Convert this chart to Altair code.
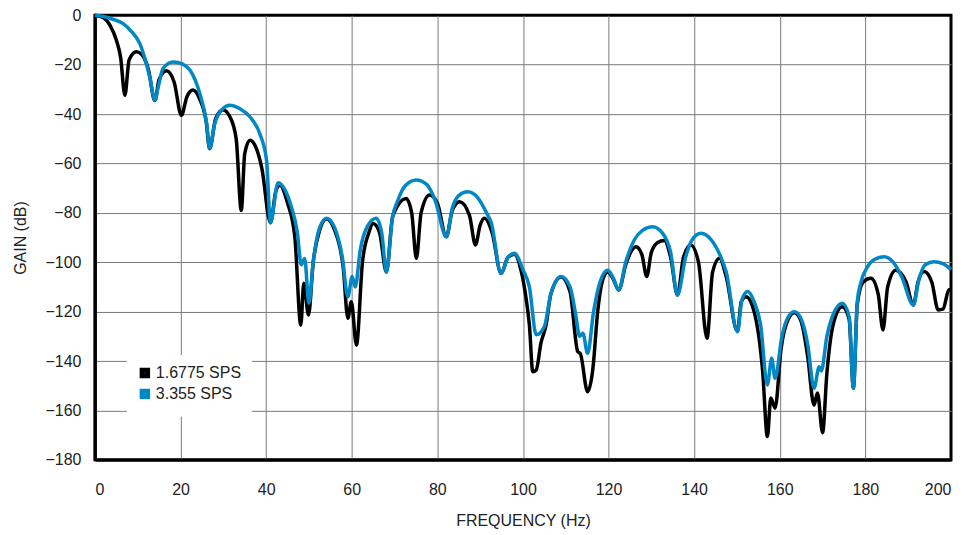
import altair as alt
import pandas as pd

# 1.6775 SPS (black)
freq_black = [0, 2, 3.5, 5, 6, 7.0, 8, 9.7, 11, 12.5, 14.0, 15, 16.7, 18.5, 20.2, 21.5, 22.9, 24.5, 26, 26.8,
              28.2, 29.9, 31.5, 33, 34.2, 35, 36.2, 37.5, 39, 41.0, 42.3, 43.2, 45, 46.7, 48.1, 48.8, 49.9,
              51, 52.5, 54.1, 56, 58, 59.1, 59.9, 61.1, 62.5, 64, 65, 66.5, 68.1, 69.5, 70, 72.7, 74, 75.1,
              76.2, 78.2, 80, 82.1, 83.5, 85.2, 87.5, 88.9, 90, 91.0, 92.8, 94.9, 96.5, 98.0, 99.5, 100.5,
              101.5, 102.3, 103.1, 104.2, 105.4, 106.5, 108.9, 111, 112.8, 113.4, 115.1, 116.3, 117.5, 118.5,
              119.8, 121, 122.4, 124, 126.4, 127.8, 128.9, 130, 131.5, 133, 134.5, 136.1, 137.5, 139.2, 141,
              143, 144.3, 145.9, 147.5, 150.1, 151, 152.1, 154, 156, 157.1, 157.9, 158.9, 160.3, 162, 163.4,
              165, 166.5, 168, 168.8, 170, 171, 172.5, 174.6, 176.2, 177.2, 178.1, 179.5, 181.3, 183, 184.1,
              185.2, 187.1, 189.5, 191.2, 192.3, 193.7, 195.5, 197, 198.1, 199.5, 200]
gain_black = [0, -1, -4, -10, -17, -32.4, -18, -14.8, -16, -22, -34.5, -26, -22.5, -27, -40.5, -33, -30.3, -34,
              -43, -54, -42, -38.4, -41, -50, -79, -56, -50.6, -53, -62, -84, -71, -68.8, -76, -89.7, -125.4,
              -108.5, -121.4, -100, -87, -82.5, -87, -102, -122.7, -116, -133.5, -100, -88, -84.3, -88, -104,
              -82, -79.6, -74.2, -80, -98.4, -80, -72.8, -76, -89.7, -79, -75.5, -81, -93, -85, -82.2, -88,
              -104.5, -98, -96.8, -103, -112, -125.4, -144.3, -143.6, -132.8, -125.4, -113, -106, -112,
              -136.2, -137, -152.4, -143.6, -119.3, -108, -104, -106.5, -111.2, -101, -93.7, -97, -105.8,
              -96, -92, -91.2, -98, -113.3, -98, -93, -100, -130.8, -104, -98.4, -106, -128, -116, -114, -120,
              -144.3, -170.6, -155, -159.1, -135, -123, -120.5, -124, -138, -157.8, -153, -169, -145, -125,
              -118, -123, -151, -117, -108, -106.5, -113, -127.4, -110, -103.2, -108, -117.3, -108, -103.8,
              -108, -119.3, -119, -111.2, -111]

# 3.355 SPS (blue)
freq_blue = [0, 2, 4, 6.6, 8.5, 10.5, 12.8, 14.0, 14.8, 15.9, 18.3, 20.5, 22.2, 24.5, 26.1, 26.8, 28, 29.9,
             31.5, 34, 36.2, 38.5, 40.1, 41.0, 42.8, 44.5, 45.9, 47.3, 48.2, 49.0, 50.0, 51, 52.5, 54.1, 56,
             57.8, 59.1, 60.1, 60.8, 62, 63.5, 65.7, 67, 68.1, 69.5, 70.8, 72.5, 75.1, 77.5, 79.5, 82.1, 83.5,
             85, 87.1, 89.5, 91.5, 92.6, 94.9, 96.5, 98.0, 100, 101.5, 103.1, 105, 106.5, 108.9, 111, 112.4,
             113.2, 114, 115.1, 116.5, 118, 119.8, 121, 122.4, 124, 126, 128, 130.3, 132.5, 134.5, 136.1, 138,
             139.5, 141.6, 144, 146, 147.5, 150.1, 151.2, 152.5, 154, 155.5, 157.1, 158.1, 158.9, 160.5, 162,
             163.4, 165, 166.5, 168, 169.2, 169.7, 171, 172.5, 174.6, 176.2, 177.2, 178.1, 178.9, 180.5,
             182.5, 184.4, 186.5, 188.5, 191.2, 192.5, 194, 196, 198, 200]
gain_blue = [0, -0.5, -1.5, -3.4, -6.5, -11.5, -25, -34.4, -29, -21.6, -18.9, -19.8, -22.2, -31.7, -43.8, -53.9,
             -43.8, -37.8, -36.4, -38, -41.1, -47.9, -58.7, -84, -67.8, -71, -77.5, -88, -101, -98.5, -116.6,
             -100, -86, -82.2, -86, -98, -114, -105.8, -110, -95, -86, -82.2, -88, -104, -82, -74.8, -69, -66.7,
             -68.5, -75, -89.7, -78, -73, -71.5, -74, -80, -84, -104.5, -98, -96.4, -103, -110, -129.4, -126,
             -113, -105.8, -110, -122, -130, -128.8, -136.9, -120, -108, -103.2, -106, -111.2, -100, -91, -87,
             -85.6, -88, -96, -113.3, -98, -91, -88.3, -91, -97, -104, -128.1, -115, -111.9, -116, -125,
             -149.7, -138.9, -147, -130, -122, -120, -123, -133, -151, -142.3, -144, -130, -121, -116.6, -122,
             -151, -116, -108.5, -101.8, -98.5, -97.8, -100, -106, -117.3, -107, -101, -99.8, -100.5, -103]

series_names = ["1.6775 SPS", "3.355 SPS"]
series_colors = ["#000000", "#0088C6"]

df_black = pd.DataFrame({"f": freq_black, "g": gain_black, "s": series_names[0]})
df_blue = pd.DataFrame({"f": freq_blue, "g": gain_blue, "s": series_names[1]})

FONT = "Liberation Sans"
TXT = "#222222"

x_enc = alt.X("f:Q", scale=alt.Scale(domain=[0, 200], nice=False, zero=False),
              axis=alt.Axis(title="FREQUENCY (Hz)", values=list(range(0, 201, 20)),
                            tickSize=0, labelPadding=22, titlePadding=15,
                            labelFont=FONT, labelFontSize=16, labelColor=TXT,
                            titleFont=FONT, titleFontSize=16, titleColor=TXT, titleFontWeight="normal",
                            domainColor="black", domainWidth=3,
                            gridColor="#7a7a7a", gridWidth=1,
                            gridOpacity={"condition": {"test": "datum.value === 0 || datum.value === 200", "value": 0}, "value": 1}))
y_enc = alt.Y("g:Q", scale=alt.Scale(domain=[-180, 0], nice=False, zero=False),
              axis=alt.Axis(title="GAIN (dB)", values=list(range(-180, 1, 20)),
                            tickSize=0, labelPadding=14, titlePadding=16,
                            labelFont=FONT, labelFontSize=16, labelColor=TXT,
                            titleFont=FONT, titleFontSize=16, titleColor=TXT, titleFontWeight="normal",
                            domainColor="black", domainWidth=3,
                            gridColor="#7a7a7a", gridWidth=1,
                            gridOpacity={"condition": {"test": "datum.value === 0 || datum.value === -180", "value": 0}, "value": 1}))
color_enc = alt.Color("s:N", scale=alt.Scale(domain=series_names, range=series_colors),
                      legend=alt.Legend(title=None, orient="none", legendX=32, legendY=340,
                                        symbolType="square", symbolSize=30, symbolStrokeWidth=5,
                                        labelFontSize=16, labelFont=FONT, labelColor=TXT,
                                        fillColor="white", padding=10, rowPadding=-6, labelOffset=3))

black = alt.Chart(df_black).mark_line(strokeWidth=3.5, interpolate="monotone").encode(x=x_enc, y=y_enc, color=color_enc)
blue = alt.Chart(df_blue).mark_line(strokeWidth=3.5, interpolate="monotone").encode(x=x_enc, y=y_enc, color=color_enc)

chart = alt.layer(black, blue).properties(
    width=857, height=445,
    autosize="none",
    padding={"left": 87, "top": 7, "right": 9, "bottom": 75},
    background="white",
).configure_view(stroke="black", strokeWidth=3)

chart.save("out.html", embed_options={"renderer": "svg", "actions": False})
